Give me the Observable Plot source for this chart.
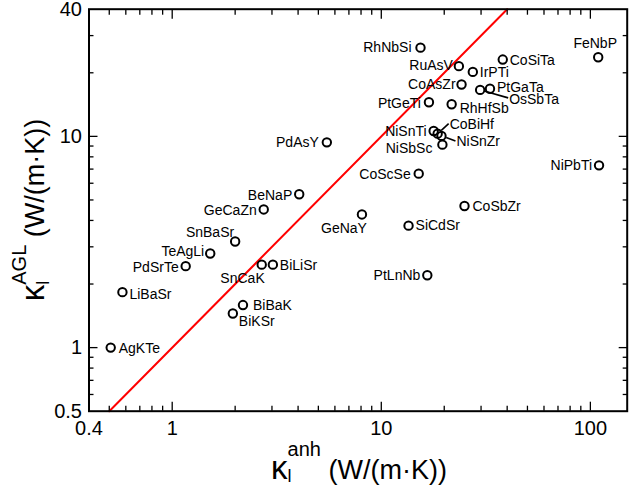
<!DOCTYPE html>
<html><head><meta charset="utf-8">
<script src="https://cdn.jsdelivr.net/npm/d3@7"></script>
<script src="https://cdn.jsdelivr.net/npm/@observablehq/plot@0.6"></script>
<style>body{margin:0;background:#fff} svg{display:block}</style>
</head><body><div id="chart"></div>
<script>
// ---- data ----
const names = ["RhNbSi","RuAsV","IrPTi","CoSiTa","FeNbP","CoAsZr","OsSbTa","PtGaTa","PtGeTi","RhHfSb",
  "NiSnTi","CoBiHf","NiSnZr","NiSbSc","PdAsY","NiPbTi","CoScSe","BeNaP","GeCaZn","CoSbZr",
  "GeNaY","SiCdSr","SnBaSr","TeAgLi","PdSrTe","SnCaK","BiLiSr","PtLnNb","LiBaSr","BiBaK","BiKSr","AgKTe"];
const kAnh = [15.4, 23.5, 27.4, 38.1, 109, 24.2, 29.7, 33.1, 16.9, 21.7,
  17.8, 18.6, 19.4, 19.6, 5.49, 110, 15.1, 4.05, 2.74, 25.0,
  8.08, 13.5, 2.00, 1.52, 1.16, 2.68, 3.03, 16.6, 0.578, 2.18, 1.95, 0.508];
const kAGL = [26.3, 21.5, 20.2, 23.1, 23.7, 17.6, 16.6, 16.8, 14.5, 14.2,
  10.6, 10.3, 10.05, 9.14, 9.37, 7.29, 6.66, 5.32, 4.51, 4.68,
  4.27, 3.78, 3.18, 2.79, 2.43, 2.47, 2.47, 2.20, 1.83, 1.59, 1.45, 1.00];
const xTickLabels = [0.4, 1, 10, 100];
const yTickLabels = [0.5, 1, 10, 40];
const xMajor = [1, 10, 100];
const yMajor = [1, 10];
const xMinor = [0.5,0.6,0.7,0.8,0.9,2,3,4,5,6,7,8,9,20,30,40,50,60,70,80,90];
const yMinor = [0.6,0.7,0.8,0.9,2,3,4,5,6,7,8,9,20,30];
const xDomain = [0.4, 150];
const yDomain = [0.5, 40];
const diagonal = [0.5, 40]; // y = x

// ---- label layout: [anchor, dx, dy] in pixels ----
const labelLayout = {
  RhNbSi:["end",-9,0], RuAsV:["end",-6,-1], IrPTi:["start",7,1], CoSiTa:["start",7,1],
  FeNbP:["middle",-3,-14], CoAsZr:["end",-6,0], OsSbTa:["start",29,10], PtGaTa:["start",7,-1.5],
  PtGeTi:["end",-8,1], RhHfSb:["start",8,4], NiSnTi:["end",-7,0], CoBiHf:["start",12,-9],
  NiSnZr:["start",15,6], NiSbSc:["end",-10,4], PdAsY:["end",-8,0], NiPbTi:["end",-7,0],
  CoScSe:["end",-8,1], BeNaP:["end",-7,1], GeCaZn:["end",-7,1], CoSbZr:["start",8,0],
  GeNaY:["end",5,14], SiCdSr:["start",7,0], SnBaSr:["end",-1,-9], TeAgLi:["end",-6,-2],
  PdSrTe:["end",-7,1], SnCaK:["end",3,14], BiLiSr:["start",7,1], PtLnNb:["end",-7,0],
  LiBaSr:["start",7,2], BiBaK:["start",10,0], BiKSr:["start",6,8], AgKTe:["start",8,1]
};
// leader line end offsets (pixels from point)
const leaders = { OsSbTa:[28,8], CoBiHf:[11,-10], NiSnZr:[14,5] };

// ---- layout ----
const W = 639, H = 485, mL = 88.5, mR = 12.3, mT = 8.7, mB = 74.3;
const FONT = "'Liberation Sans', Arial, Helvetica, sans-serif";

const rows = names.map((n, i) => ({name: n, x: kAnh[i], y: kAGL[i]}));

const xs = Plot.scale({x: {type: "log", domain: xDomain, range: [mL, W - mR]}});
const ys = Plot.scale({y: {type: "log", domain: yDomain, range: [H - mB, mT]}});
const leaderRows = Object.entries(leaders).map(([n, [ex, ey]]) => {
  const i = names.indexOf(n);
  const px = xs.apply(kAnh[i]), py = ys.apply(kAGL[i]);
  const len = Math.hypot(ex, ey), r = 5;
  return {x1: xs.invert(px + ex * r / len), y1: ys.invert(py + ey * r / len),
          x2: xs.invert(px + ex), y2: ys.invert(py + ey)};
});

const labelMarks = rows.map(d => {
  const [a, dx, dy] = labelLayout[d.name];
  return Plot.text([d], {x: "x", y: "y", text: "name", textAnchor: a, dx, dy,
    fontSize: 14, fill: "black"});
});

const fmt = d => String(d);
const plot = Plot.plot({
  width: W, height: H,
  marginLeft: mL, marginRight: mR, marginTop: mT, marginBottom: mB,
  style: {fontFamily: FONT, background: "white", color: "black"},
  x: {type: "log", domain: xDomain},
  y: {type: "log", domain: yDomain},
  marks: [
    Plot.line(diagonal, {x: d => d, y: d => d, stroke: "#ff0000", strokeWidth: 2}),
    Plot.link(leaderRows, {x1: "x1", y1: "y1", x2: "x2", y2: "y2", stroke: "black", strokeWidth: 1.6}),
    Plot.dot(rows, {x: "x", y: "y", r: 4.2, stroke: "black", strokeWidth: 2, fill: "none"}),
    ...labelMarks,
    // inward ticks, all four sides
    Plot.axisX({anchor: "bottom", ticks: xMajor, tickSize: -9, tickFormat: () => "", label: null, strokeWidth: 1.3}),
    Plot.axisX({anchor: "bottom", ticks: xMinor, tickSize: -5, tickFormat: () => "", label: null, strokeWidth: 1.3}),
    Plot.axisX({anchor: "top", ticks: xMajor, tickSize: -9, tickFormat: () => "", label: null, strokeWidth: 1.3}),
    Plot.axisX({anchor: "top", ticks: xMinor, tickSize: -5, tickFormat: () => "", label: null, strokeWidth: 1.3}),
    Plot.axisY({anchor: "left", ticks: yMajor, tickSize: -9, tickFormat: () => "", label: null, strokeWidth: 1.3}),
    Plot.axisY({anchor: "left", ticks: yMinor, tickSize: -5, tickFormat: () => "", label: null, strokeWidth: 1.3}),
    Plot.axisY({anchor: "right", ticks: yMajor, tickSize: -9, tickFormat: () => "", label: null, strokeWidth: 1.3}),
    Plot.axisY({anchor: "right", ticks: yMinor, tickSize: -5, tickFormat: () => "", label: null, strokeWidth: 1.3}),
    // tick labels
    Plot.axisX({anchor: "bottom", ticks: xTickLabels, tickSize: 0, tickPadding: 10, tickFormat: fmt, label: null, fontSize: 20}),
    Plot.axisY({anchor: "left", ticks: yTickLabels, tickSize: 0, tickPadding: 7, tickFormat: fmt, label: null, fontSize: 20}),
    Plot.frame({stroke: "black", strokeWidth: 2})
  ]
});

// axis titles with sub/superscripts
const svg = d3.select(plot);
const xl = svg.append("text").attr("x", 359).attr("y", 479).attr("text-anchor", "middle")
  .attr("font-family", FONT).attr("fill", "black");
xl.append("tspan").attr("font-size", 33).text("κ");
xl.append("tspan").attr("font-size", 18).attr("dy", 3).text("l");
xl.append("tspan").attr("font-size", 20).attr("dx", -4).attr("dy", -26).text("anh");
xl.append("tspan").attr("font-size", 27).attr("dy", 23).text(" (W/(m·K))");

const yl = svg.append("text").attr("transform", "translate(44,210) rotate(-90)")
  .attr("text-anchor", "middle").attr("font-family", FONT).attr("fill", "black");
yl.append("tspan").attr("font-size", 33).text("κ");
yl.append("tspan").attr("font-size", 18).attr("dy", 5).text("l");
yl.append("tspan").attr("font-size", 20).attr("dx", -4).attr("dy", -23).text("AGL");
yl.append("tspan").attr("font-size", 27).attr("dy", 18).text(" (W/(m·K))");

document.getElementById("chart").appendChild(plot);
</script>
</body></html>
